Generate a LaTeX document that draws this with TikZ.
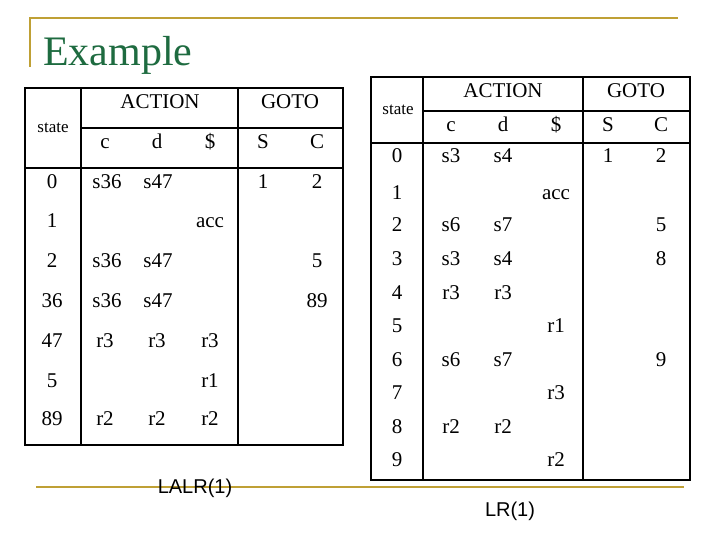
\documentclass[tikz,border=0pt]{standalone}
\usepackage{fontspec}
\setmainfont{Liberation Serif}
\newfontfamily\lsans{Liberation Sans}
\definecolor{gold}{HTML}{BFA035}
\definecolor{tgreen}{HTML}{1E6B40}
\begin{document}
\begin{tikzpicture}[x=1pt,y=-1pt,
  cell/.style={inner sep=0pt,font=\fontsize{21}{21}\selectfont,text height=1.45ex,text depth=0.2ex},
  sm/.style={inner sep=0pt,font=\fontsize{17}{17}\selectfont,text height=1.45ex,text depth=0.2ex},
  outer/.style={line width=2.4pt},
  inner/.style={line width=1.6pt},
  goldline/.style={gold,line width=2.5pt}]
\useasboundingbox (0,0) rectangle (720,540);
% frame
\draw[goldline] (30,67) -- (30,18) -- (678,18);
\node[anchor=base west,inner sep=0pt,text=tgreen,font=\fontsize{42}{42}\selectfont] (title) at (43,66) {Example};
\draw[goldline] (36,487) -- (684,487);
% left table
\draw[outer] (25,88) rectangle (343,445);
\draw[inner] (81,88) -- (81,445);
\draw[inner] (238,88) -- (238,445);
\draw[inner] (81,128) -- (343,128);
\draw[outer] (25,168) -- (343,168);
\node[cell] (la) at (160,106) {ACTION};
\node[cell] (lg) at (290,106) {GOTO};
\node[sm] (ls) at (53,130) {state};
\foreach \t/\x in {c/105,d/157,\$/210,S/263,C/317}
  \node[cell] at (\x,146) {\t};
\foreach \t/\y in {0/186,1/225,2/265,36/305,47/345,5/385,89/423}
  \node[cell] at (52,\y) {\t};
\foreach \t/\x/\y in {s36/107/186,s47/158/186,1/263/186,2/317/186,
  acc/210/225,s36/107/265,s47/158/265,5/317/265,s36/107/305,s47/158/305,89/317/305,
  r3/105/345,r3/157/345,r3/210/345,r1/210/385,r2/105/423,r2/157/423,r2/210/423}
  \node[cell] at (\x,\y) {\t};
\node[inner sep=0pt,font=\lsans\fontsize{20}{20}\selectfont] (lalr) at (195,488) {LALR(1)};
% right table
\draw[outer] (371,77) rectangle (690,480);
\draw[outer] (423,77) -- (423,480);
\draw[outer] (583,77) -- (583,480);
\draw[inner] (423,111) -- (690,111);
\draw[outer] (371,143) -- (690,143);
\node[cell] (ra) at (503,95) {ACTION};
\node[cell] (rg) at (636,95) {GOTO};
\node[sm] (rs) at (398,112) {state};
\foreach \t/\x in {c/451,d/503,\$/556,S/608,C/661}
  \node[cell] at (\x,129) {\t};
\foreach \t/\y in {0/160,1/197,2/229,3/263,4/297,5/330,6/364,7/397,8/431,9/464}
  \node[cell] at (397,\y) {\t};
\foreach \t/\x/\y in {s3/451/160,s4/503/160,1/608/160,2/661/160,acc/556/197,
  s6/451/229,s7/503/229,5/661/229,s3/451/263,s4/503/263,8/661/263,
  r3/451/297,r3/503/297,r1/556/330,s6/451/364,s7/503/364,9/661/364,
  r3/556/397,r2/451/431,r2/503/431,r2/556/464}
  \node[cell] at (\x,\y) {\t};
\node[inner sep=0pt,font=\lsans\fontsize{20}{20}\selectfont] (lr) at (510,511) {LR(1)};
\end{tikzpicture}
\end{document}
